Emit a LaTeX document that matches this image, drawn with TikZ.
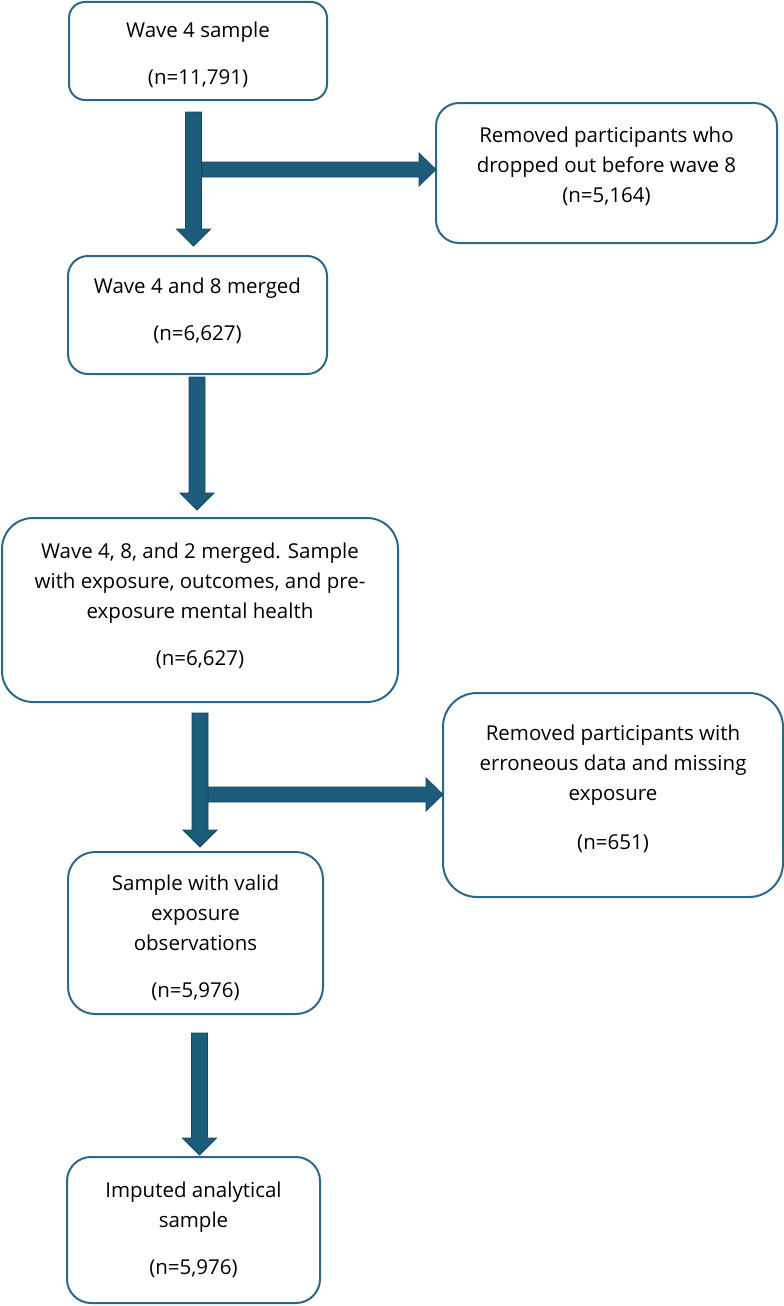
\documentclass[tikz,border=0pt]{standalone}
\usepackage{fontspec}
\setmainfont{Open Sans}
\usetikzlibrary{calc}
\definecolor{boxline}{RGB}{44,104,138}
\definecolor{arrfill}{RGB}{29,92,123}
\definecolor{arrline}{RGB}{22,72,98}
\newcommand\downblk[2]{%
  \filldraw[arr] let \p1=(#1), \p2=(#2) in
    (\x1-8pt,\y1) -- (\x1+8pt,\y1) -- (\x1+8pt,\y2+17pt) -- (\x1+17pt,\y2+17pt)
    -- (\x1,\y2) -- (\x1-17pt,\y2+17pt) -- (\x1-8pt,\y2+17pt) -- cycle;}
\newcommand\rightblk[2]{%
  \filldraw[arr] let \p1=(#1), \p2=(#2) in
    (\x1,\y1+7.5pt) -- (\x2-17pt,\y1+7.5pt) -- (\x2-17pt,\y1+16.5pt) -- (\x2,\y1)
    -- (\x2-17pt,\y1-16.5pt) -- (\x2-17pt,\y1-7.5pt) -- (\x1,\y1-7.5pt) -- cycle;}
\begin{document}
\begin{tikzpicture}[x=1pt,y=-1pt,
  box/.style={draw=boxline,line width=2pt,fill=white,inner sep=0pt,outer sep=0pt},
  txt/.style={align=center,inner sep=0pt,font=\fontsize{20.5}{30}\selectfont},
  arr/.style={fill=arrfill,draw=arrline,line width=0.8pt,line join=miter}]
\useasboundingbox (0,0) rectangle (784,1306);
% boxes
\node[box,rounded corners=16pt,minimum width=258pt,minimum height=98pt] (b1) at (198,51) {};
\node[box,rounded corners=23pt,minimum width=341pt,minimum height=140pt] (b2) at (606.5,173) {};
\node[box,rounded corners=20pt,minimum width=259pt,minimum height=118pt] (b3) at (197.5,315) {};
\node[box,rounded corners=31pt,minimum width=396pt,minimum height=184pt] (b4) at (200,610) {};
\node[box,rounded corners=34pt,minimum width=340pt,minimum height=204pt] (b5) at (613,795) {};
\node[box,rounded corners=27pt,minimum width=255pt,minimum height=162pt] (b6) at (195.5,933) {};
\node[box,rounded corners=24pt,minimum width=253pt,minimum height=146pt] (b7) at (193.5,1230) {};
% texts
\node[txt] (t1) at (198,54.5) {Wave 4 sample\\[17pt](n=11,791)};
\node[txt] (t2) at (606.5,166) {Removed participants who\\dropped out before wave 8\\(n=5,164)};
\node[txt] (t3) at (197.5,310.5) {Wave 4 and 8 merged\\[17pt](n=6,627)};
\node[txt] (t4) at (200,605.5) {Wave 4, 8, and 2 merged. Sample\\with exposure, outcomes, and pre-\\exposure mental health\\[17pt](n=6,627)};
\node[txt] (t5) at (613,788.5) {Removed participants with\\erroneous data and missing\\exposure\\[19pt](n=651)};
\node[txt] (t6) at (195.5,937.5) {Sample with valid\\exposure\\observations\\[17pt](n=5,976)};
\node[txt] (t7) at (193.5,1229.5) {Imputed analytical\\sample\\[17pt](n=5,976)};
% arrows
\coordinate (j1) at ($(b1.south)+(4,69.5)$);
\coordinate (j3) at ($(b4.south)+(8,92.5)$);
\rightblk{j1}{b2.west}
\downblk{$(b1.south)+(-4.5,12)$}{$(b3.north)+(0,-10)$}
\downblk{$(b3.south)+(-0.5,3)$}{$(b4.north)+(0,-8)$}
\rightblk{j3}{b5.west}
\downblk{$(b4.south)+(0,11)$}{$(b6.north)+(0,-5)$}
\downblk{$(b6.south)+(4,19)$}{$(b7.north)+(0,-2)$}
\end{tikzpicture}
\end{document}
